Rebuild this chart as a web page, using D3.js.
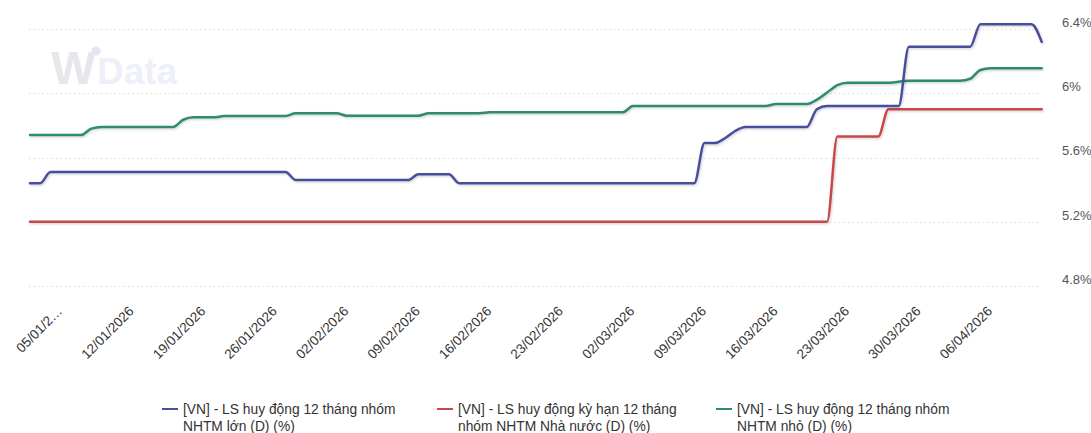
<!DOCTYPE html>
<html>
<head>
<meta charset="utf-8">
<script src="https://cdn.jsdelivr.net/npm/d3@7"></script>
<style>
  html, body { margin: 0; padding: 0; background: #fff; }
  svg { display: block; font-family: "Liberation Sans", Arial, sans-serif; }
</style>
</head>
<body>
<svg id="chart" width="1091" height="433"></svg>
<script>
// 12-month deposit rates by bank group, daily observations (date, %)
const largeBanks = [
  ["2026-01-02", 5.44], ["2026-01-03", 5.44], ["2026-01-04", 5.51],
  ["2026-01-27", 5.51], ["2026-01-28", 5.46], ["2026-02-08", 5.46],
  ["2026-02-09", 5.495], ["2026-02-12", 5.495], ["2026-02-13", 5.44],
  ["2026-03-08", 5.44], ["2026-03-09", 5.69], ["2026-03-10", 5.69],
  ["2026-03-11", 5.72], ["2026-03-12", 5.765], ["2026-03-13", 5.79],
  ["2026-03-19", 5.79], ["2026-03-20", 5.90], ["2026-03-21", 5.92],
  ["2026-03-28", 5.92], ["2026-03-29", 6.29], ["2026-04-04", 6.29],
  ["2026-04-05", 6.43], ["2026-04-10", 6.43], ["2026-04-11", 6.32]
];
const stateBanks = [
  ["2026-01-02", 5.2], ["2026-03-21", 5.2], ["2026-03-22", 5.73],
  ["2026-03-26", 5.73], ["2026-03-27", 5.9], ["2026-04-11", 5.9]
];
const smallBanks = [
  ["2026-01-02", 5.74], ["2026-01-07", 5.74], ["2026-01-08", 5.78],
  ["2026-01-09", 5.79], ["2026-01-16", 5.79], ["2026-01-17", 5.835],
  ["2026-01-18", 5.85], ["2026-01-20", 5.85], ["2026-01-21", 5.858],
  ["2026-01-27", 5.858], ["2026-01-28", 5.875], ["2026-02-01", 5.875],
  ["2026-02-02", 5.86], ["2026-02-09", 5.86], ["2026-02-10", 5.875],
  ["2026-02-15", 5.875], ["2026-02-16", 5.881], ["2026-03-01", 5.881],
  ["2026-03-02", 5.92], ["2026-03-15", 5.92], ["2026-03-16", 5.933],
  ["2026-03-19", 5.933], ["2026-03-20", 5.96], ["2026-03-21", 6.005],
  ["2026-03-22", 6.05], ["2026-03-23", 6.065], ["2026-03-27", 6.065],
  ["2026-03-29", 6.078], ["2026-04-03", 6.078], ["2026-04-04", 6.09],
  ["2026-04-05", 6.145], ["2026-04-06", 6.155], ["2026-04-11", 6.155]
];

const seriesNames = [
  ["[VN] - LS huy động 12 tháng nhóm", "NHTM lớn (D) (%)"],
  ["[VN] - LS huy động kỳ hạn 12 tháng", "nhóm NHTM Nhà nước (D) (%)"],
  ["[VN] - LS huy động 12 tháng nhóm", "NHTM nhỏ (D) (%)"]
];
const seriesColors = ["#4a4e9e", "#c8474c", "#2e8a6f"];

const xDomain = ["2026-01-02", "2026-04-11"];
const xTickDates = [
  "2026-01-05", "2026-01-12", "2026-01-19", "2026-01-26", "2026-02-02",
  "2026-02-09", "2026-02-16", "2026-02-23", "2026-03-02", "2026-03-09",
  "2026-03-16", "2026-03-23", "2026-03-30", "2026-04-06"
];
const xTickLabels = [
  "05/01/2…", "12/01/2026", "19/01/2026", "26/01/2026", "02/02/2026",
  "09/02/2026", "16/02/2026", "23/02/2026", "02/03/2026", "09/03/2026",
  "16/03/2026", "23/03/2026", "30/03/2026", "06/04/2026"
];
const yTicks = [4.8, 5.2, 5.6, 6.0, 6.4];
const yTickLabels = ["4.8%", "5.2%", "5.6%", "6%", "6.4%"];

const parse = d3.timeParse("%Y-%m-%d");
const svg = d3.select("#chart");

const x = d3.scaleTime()
  .domain(xDomain.map(parse))
  .range([30, 1041.7]);
const y = d3.scaleLinear()
  .domain([4.8, 6.4])
  .range([286, 29]);

// soft shadow under the lines
const defs = svg.append("defs");
const f = defs.append("filter").attr("id", "shadow")
  .attr("x", "-5%").attr("y", "-20%").attr("width", "110%").attr("height", "140%");
f.append("feDropShadow").attr("dx", 1).attr("dy", 1.2)
  .attr("stdDeviation", 0.9).attr("flood-color", "#000").attr("flood-opacity", 0.18);

// watermark
const wm = svg.append("g").attr("class", "watermark");
wm.append("text").attr("x", 51).attr("y", 84)
  .attr("font-size", 47).attr("font-weight", "bold")
  .attr("fill", "#e6e6eb").text("W");
wm.append("circle").attr("cx", 96).attr("cy", 51).attr("r", 4.5).attr("fill", "#e2e5f4");
wm.append("text").attr("x", 97).attr("y", 84)
  .attr("font-size", 37).attr("font-weight", "bold")
  .attr("fill", "#edf0fa").text("Data");

// horizontal grid + right-side labels
const grid = svg.append("g").attr("class", "grid");
grid.selectAll("line").data(yTicks).join("line")
  .attr("x1", 29).attr("x2", 1041)
  .attr("y1", d => Math.round(y(d)) + 0.5).attr("y2", d => Math.round(y(d)) + 0.5)
  .attr("stroke", "#d9d9d9").attr("stroke-width", 1)
  .attr("stroke-dasharray", "1.5,3");

const yAxis = d3.axisRight(y).tickValues(yTicks)
  .tickFormat((d, i) => yTickLabels[i]).tickSize(0).tickPadding(0);
svg.append("g").attr("transform", "translate(1062,0)").call(yAxis)
  .call(g => g.select(".domain").remove())
  .call(g => g.selectAll("text")
    .attr("font-size", 13).attr("fill", "#555")
    .attr("font-family", "'Liberation Sans', Arial, sans-serif")
    .attr("dy", "-0.2em"));

// x axis labels (rotated)
const xAxis = d3.axisBottom(x).tickValues(xTickDates.map(parse))
  .tickFormat((d, i) => xTickLabels[i]).tickSize(0).tickPadding(0);
svg.append("g").call(xAxis)
  .call(g => g.select(".domain").remove())
  .call(g => g.selectAll(".tick").attr("transform", d => `translate(${x(d) + 2.5},312)`))
  .call(g => g.selectAll("text")
    .attr("font-size", 13.5).attr("fill", "#333")
    .attr("font-family", "'Liberation Sans', Arial, sans-serif")
    .attr("text-anchor", "end").attr("x", 0).attr("y", 0).attr("dy", 0)
    .attr("transform", "rotate(-45)"));

// lines
const line = d3.line()
  .x(d => x(parse(d[0])))
  .y(d => y(d[1]))
  .curve(d3.curveMonotoneX);

const allSeries = [stateBanks, smallBanks, largeBanks];
const order = [1, 2, 0];
svg.append("g").attr("class", "lines")
  .selectAll("path").data(allSeries).join("path")
  .attr("d", line)
  .attr("fill", "none")
  .attr("stroke", (d, i) => seriesColors[order[i]])
  .attr("stroke-width", 2.5)
  .attr("stroke-linejoin", "round")
  .attr("stroke-linecap", "round")
  .attr("filter", "url(#shadow)");

// legend
const legendX = [162, 437, 716];
const legend = svg.append("g").attr("class", "legend");
const items = legend.selectAll("g").data(seriesNames).join("g")
  .attr("transform", (d, i) => `translate(${legendX[i]},0)`);
items.append("line")
  .attr("x1", 0).attr("x2", 16).attr("y1", 409).attr("y2", 409)
  .attr("stroke", (d, i) => seriesColors[i]).attr("stroke-width", 2);
items.append("text")
  .attr("x", 21).attr("y", 413.5)
  .attr("font-size", 13.8).attr("fill", "#333")
  .selectAll("tspan").data(d => d).join("tspan")
  .attr("x", 21).attr("dy", (d, i) => i === 0 ? 0 : 17)
  .text(d => d);
</script>
</body>
</html>
